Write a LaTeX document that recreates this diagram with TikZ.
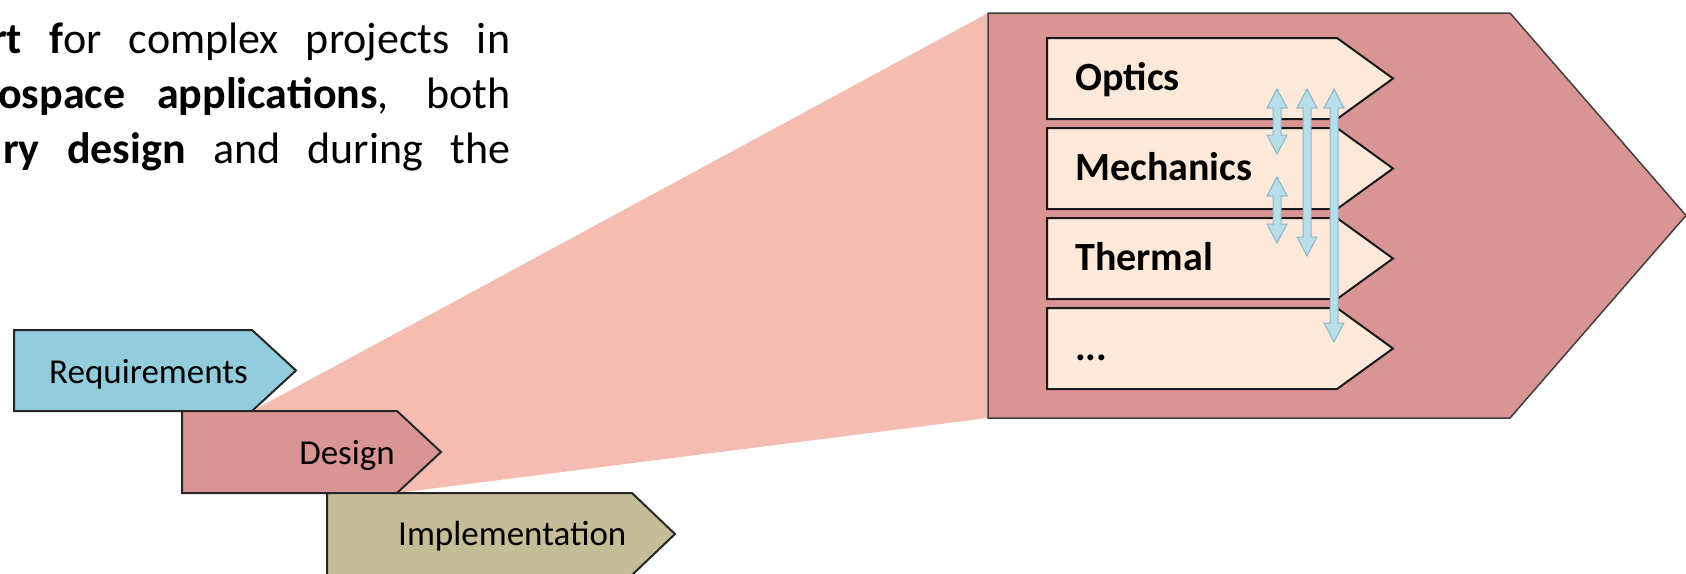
\documentclass[tikz,border=0pt]{standalone}
\usepackage{fontspec}
\setmainfont{Carlito}
\usetikzlibrary{calc}

\definecolor{reqblue}{HTML}{93CDDD}
\definecolor{desred}{HTML}{D99594}
\definecolor{imptan}{HTML}{C4BD97}
\definecolor{zoomfan}{HTML}{F5BDB2}
\definecolor{subpeach}{HTML}{FCE9DA}
\definecolor{linkfill}{HTML}{B8DEE9}
\definecolor{linkedge}{HTML}{8FB6C6}

% vertical double-headed block arrow between two named points (top, bottom)
\newcommand\fatlink[2]{%
  \path[link] (#1) -- ($(#1)+(10,19)$) -- ($(#1)+(4,19)$) -- ($(#2)+(4,-19)$)
    -- ($(#2)+(10,-19)$) -- (#2) -- ($(#2)+(-10,-19)$) -- ($(#2)+(-4,-19)$)
    -- ($(#1)+(-4,19)$) -- ($(#1)+(-10,19)$) -- cycle;}

\begin{document}
\begin{tikzpicture}[x=1pt,y=-1pt,
  phase/.style={draw=black!85, line width=2pt, line join=miter},
  bigphase/.style={fill=desred, draw=black!75, line width=1.5pt, line join=miter},
  subphase/.style={fill=subpeach, draw=black!90, line width=2pt, line join=miter},
  label/.style={inner sep=0pt, font=\fontsize{35}{42}\selectfont},
  sublabel/.style={inner sep=0pt, anchor=base west, font=\fontsize{40}{48}\selectfont\bfseries},
  bodytext/.style={inner sep=0pt, anchor=base west, font=\fontsize{44}{53}\selectfont},
  link/.style={fill=linkfill, draw=linkedge, line width=1pt, line join=miter}]

\useasboundingbox (0,0) rectangle (1686,573);
\clip (0,0) rectangle (1686,573);

% introductory paragraph (justified lines)
\node[bodytext] (line1) at (-9,53)
  {\makebox[519pt][s]{\textbf{rt f}or complex projects in}};
\node[bodytext] (line2) at (-2,108)
  {\makebox[512pt][s]{\textbf{ospace applications}, both}};
\node[bodytext] (line3) at (3,163)
  {\makebox[507pt][s]{\textbf{ry design} and during the}};

% key corners
\coordinate (req-corner) at (252,411);
\coordinate (des-corner) at (397,493);
\coordinate (big-nw) at (988,13);
\coordinate (big-sw) at (988,418);

% zoom fan from the design phase to its detail
\fill[zoomfan] (req-corner) -- (big-nw) -- (big-sw) -- (des-corner) -- cycle;

% project phases
\path[phase, fill=reqblue] (14,330) -- (252,330) -- (296,370.5) -- (req-corner) -- (14,411) -- cycle;
\path[phase, fill=desred] (182,411) -- (397,411) -- (441,452) -- (des-corner) -- (182,493) -- cycle;
\path[phase, fill=imptan] (327,493) -- (632,493) -- (675,534) -- (632,575) -- (327,575) -- cycle;

\node[label, anchor=base west] (req) at (49,383) {Requirements};
\node[label, anchor=base east] (des) at (395,464) {Design};
\node[label, anchor=base west] (imp) at (398,545) {Implementation};

% detailed design phase
\path[bigphase] (big-nw) -- (1510,13) -- (1686,215.5) -- (1510,418) -- (big-sw) -- cycle;

\foreach \t in {38,128,218,308}
  \path[subphase] (1047,\t) -- (1337,\t) -- (1393,\t+40.5) -- (1337,\t+81) -- (1047,\t+81) -- cycle;

\node[sublabel] (optics) at (1075,90) {Optics};
\node[sublabel] (mech) at (1075,180) {Mechanics};
\node[sublabel] (therm) at (1075,270) {Thermal};
\node[sublabel] (more) at (1075,360) {...};

% interactions between disciplines
\coordinate (om-top) at (1277,89);  \coordinate (om-bot) at (1277,154);
\coordinate (mt-top) at (1277,177); \coordinate (mt-bot) at (1277,243);
\coordinate (ot-top) at (1307,89);  \coordinate (ot-bot) at (1307,256);
\coordinate (ox-top) at (1334,89);  \coordinate (ox-bot) at (1334,342);
\fatlink{om-top}{om-bot}
\fatlink{mt-top}{mt-bot}
\fatlink{ot-top}{ot-bot}
\fatlink{ox-top}{ox-bot}

\end{tikzpicture}
\end{document}
